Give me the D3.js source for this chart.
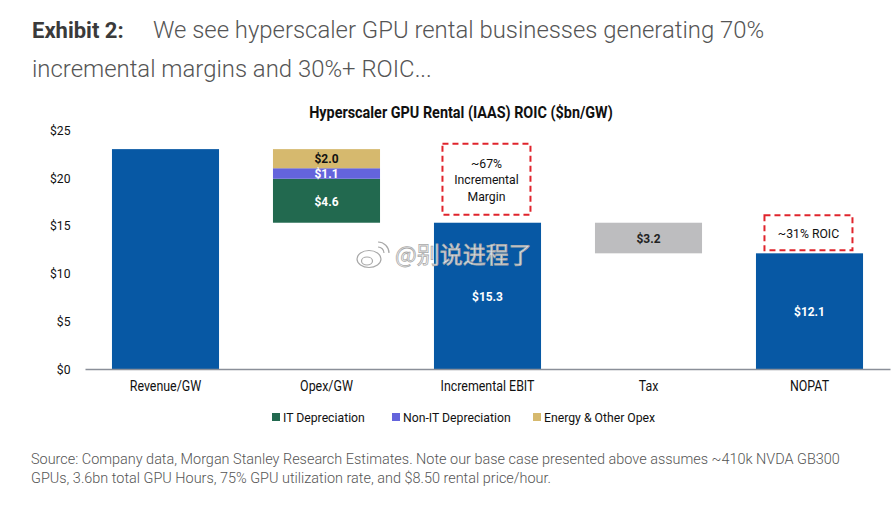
<!DOCTYPE html>
<html>
<head>
<meta charset="utf-8">
<script src="https://cdn.jsdelivr.net/npm/d3@7"></script>
<style>
  body { margin: 0; background: #fff; }
  svg { display: block; }
  .cond { font-family: Roboto, sans-serif; }
</style>
</head>
<body>
<svg id="chart" width="894" height="506"></svg>
<script>
// chart data
const categories = ['Revenue/GW', 'Opex/GW', 'Incremental EBIT', 'Tax', 'NOPAT']
const revenue = 23.0
const opexParts = ['IT Depreciation', 'Non-IT Depreciation', 'Energy & Other Opex']
const opexValues = [4.6, 1.1, 2.0]
const ebit = 15.3
const tax = 3.2
const nopat = 12.1
const yTicks = [0, 5, 10, 15, 20, 25]
const notes = [
  { cat: 'Incremental EBIT', lines: ['~67%', 'Incremental', 'Margin'] },
  { cat: 'NOPAT', lines: ['~31% ROIC'] }
]

const blue = '#0758a4'
const partColors = ['#22694f', '#6464dc', '#d6b96e']
const taxColor = '#bdbdbf'

// no condensed face installed, so squeeze Roboto horizontally
const K = 0.9
function ctext(parent, x, y) {
  return parent.append('text')
    .attr('class', 'cond')
    .attr('transform', `translate(${x},${y}) scale(${K},1)`)
}

const svg = d3.select('#chart')

// titles
svg.append('text')
  .attr('x', 32).attr('y', 38)
  .style('font-family', 'Roboto, sans-serif')
  .style('font-size', '22px')
  .attr('font-weight', 'bold')
  .attr('fill', '#3a3a3a')
  .text('Exhibit 2:')
svg.append('text')
  .attr('x', 153).attr('y', 38)
  .style('font-family', 'Roboto, sans-serif')
  .style('font-size', '23.9px')
  .attr('font-weight', 300)
  .attr('fill', '#555')
  .text('We see hyperscaler GPU rental businesses generating 70%')
svg.append('text')
  .attr('x', 32).attr('y', 77)
  .style('font-family', 'Roboto, sans-serif')
  .style('font-size', '23.9px')
  .attr('font-weight', 300)
  .attr('fill', '#555')
  .text('incremental margins and 30%+ ROIC...')

ctext(svg, 461, 118)
  .attr('text-anchor', 'middle')
  .attr('font-weight', 'bold')
  .style('font-size', '16px')
  .attr('fill', '#111')
  .text('Hyperscaler GPU Rental (IAAS) ROIC ($bn/GW)')

const x = d3.scaleBand()
  .domain(categories)
  .range([85, 890])
  .paddingInner(0.335)
  .paddingOuter(0.1675)

const y = d3.scaleLinear()
  .domain([0, 25])
  .range([369, 130])

// y axis labels
const yAxis = svg.append('g')
  .attr('transform', 'translate(75,0)')
  .call(d3.axisLeft(y).tickValues(yTicks).tickFormat(d => '$' + d).tickSize(0).tickPadding(5))
yAxis.select('.domain').remove()
yAxis.selectAll('text')
  .attr('class', 'cond')
  .attr('transform', `scale(${K},1)`)
  .style('font-size', '13.5px')
  .attr('fill', '#111')

// bars
const bars = []
bars.push({ cat: 'Revenue/GW', y0: 0, y1: revenue, color: blue, label: null })
let base = ebit
opexValues.forEach((v, i) => {
  bars.push({ cat: 'Opex/GW', y0: base, y1: base + v, color: partColors[i],
    label: '$' + v.toFixed(1), labelColor: i === 2 ? '#111' : '#fff' })
  base += v
})
bars.push({ cat: 'Incremental EBIT', y0: 0, y1: ebit, color: blue, label: '$' + ebit.toFixed(1), labelColor: '#fff' })
bars.push({ cat: 'Tax', y0: ebit - tax, y1: ebit, color: taxColor, label: '$' + tax.toFixed(1), labelColor: '#222' })
bars.push({ cat: 'NOPAT', y0: 0, y1: nopat, color: blue, label: '$' + nopat.toFixed(1), labelColor: '#fff' })

svg.append('g').selectAll('rect')
  .data(bars)
  .enter()
  .append('rect')
  .attr('x', d => x(d.cat))
  .attr('width', x.bandwidth())
  .attr('y', d => y(d.y1))
  .attr('height', d => y(d.y0) - y(d.y1))
  .attr('fill', d => d.color)

const labelG = svg.append('g')
bars.filter(d => d.label).forEach(d => {
  ctext(labelG, x(d.cat) + x.bandwidth() / 2, (y(d.y0) + y(d.y1)) / 2)
    .attr('dy', '0.36em')
    .attr('text-anchor', 'middle')
    .attr('font-weight', 'bold')
    .style('font-size', '13.3px')
    .attr('fill', d.labelColor)
    .text(d.label)
})

// x axis
const xAxis = svg.append('g')
  .attr('transform', `translate(0,${y(0)})`)
  .call(d3.axisBottom(x).tickSize(0).tickPadding(12))
xAxis.select('.domain').attr('stroke', '#8a8f99').attr('stroke-width', 1.5)
xAxis.selectAll('text')
  .attr('class', 'cond')
  .attr('transform', `scale(${K},1)`)
  .style('font-size', '13.8px')
  .attr('fill', '#111')

// dashed annotation boxes
const tops = { 'Incremental EBIT': ebit, 'NOPAT': nopat }
notes.forEach(n => {
  const h = n.lines.length === 1 ? 35 : 71
  const gap = n.lines.length === 1 ? 3 : 8
  const bx = x(n.cat) + 8.5
  const by = y(tops[n.cat]) - gap - h
  svg.append('rect')
    .attr('x', bx).attr('y', by)
    .attr('width', 88).attr('height', h)
    .attr('fill', 'none')
    .attr('stroke', '#e0242c')
    .attr('stroke-width', 2)
    .attr('stroke-dasharray', '6,4')
  const t = ctext(svg, bx + 44, by + h / 2)
    .attr('text-anchor', 'middle')
    .style('font-size', '13.6px')
    .attr('fill', '#111')
  n.lines.forEach((l, i) => {
    t.append('tspan')
      .attr('x', 0)
      .attr('y', (i - (n.lines.length - 1) / 2) * 16.5)
      .attr('dy', '0.36em')
      .text(l)
  })
})

// legend
const legendX = [272, 392, 533]
const legend = svg.append('g').selectAll('g')
  .data(opexParts)
  .enter()
  .append('g')
  .attr('transform', (d, i) => `translate(${legendX[i]},417)`)
legend.append('rect')
  .attr('x', 0).attr('y', -4)
  .attr('width', 8).attr('height', 8)
  .attr('fill', (d, i) => partColors[i])
legend.each(function (d) {
  ctext(d3.select(this), 11, 0)
    .attr('dy', '0.36em')
    .style('font-size', '13.6px')
    .attr('fill', '#111')
    .text(d)
})

// source note
const src = ['Source: Company data, Morgan Stanley Research Estimates. Note our base case presented above assumes ~410k NVDA GB300',
  'GPUs, 3.6bn total GPU Hours, 75% GPU utilization rate, and $8.50 rental price/hour.']
svg.append('g').selectAll('text')
  .data(src)
  .enter()
  .append('text')
  .attr('x', 31)
  .attr('y', (d, i) => 464 + i * 19)
  .style('font-family', 'Roboto, sans-serif')
  .style('font-size', '14.45px')
  .attr('font-weight', 300)
  .attr('fill', '#555')
  .text(d => d)

// watermark overlay (weibo logo + handle)
const wm = svg.append('g')
  .attr('fill', '#fff')
  .attr('fill-opacity', 0.85)
  .attr('stroke', '#a8a8a8')
  .attr('stroke-width', 1.2)
wm.append('ellipse').attr('cx', 369).attr('cy', 259).attr('rx', 12).attr('ry', 8.5)
wm.append('ellipse').attr('cx', 367).attr('cy', 261).attr('rx', 5.5).attr('ry', 4)
wm.append('path').attr('fill', 'none').attr('d', 'M378,247 a6,6 0 0 1 6,6')
wm.append('path').attr('fill', 'none').attr('d', 'M378,242 a11,11 0 0 1 11,11')
wm.append('text')
  .attr('x', 395).attr('y', 263)
  .attr('stroke-width', 0.8)
  .style('font-family', '"Noto Sans CJK SC", sans-serif')
  .style('font-size', '23px')
  .text('@别说进程了')
</script>
</body>
</html>
